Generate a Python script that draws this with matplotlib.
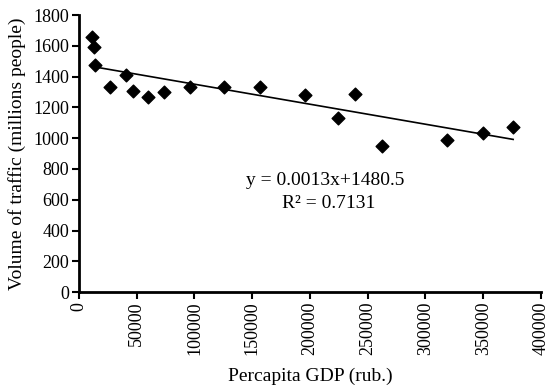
import matplotlib.pyplot as plt
import numpy as np

gdp = [11200, 12900, 13700, 26600, 40300, 47200, 60100, 73800, 96100, 125300,
       157100, 195700, 224000, 238600, 262700, 318500, 350200, 375900]
traffic = [1660, 1595, 1475, 1335, 1410, 1305, 1270, 1300, 1335, 1335,
           1335, 1280, 1130, 1290, 950, 985, 1035, 1070]
slope, intercept = -0.0013, 1480.5

plt.rcParams['font.family'] = ['Liberation Serif', 'DejaVu Serif']
plt.rcParams['font.size'] = 13

fig = plt.figure(figsize=(5.5, 3.91), dpi=100)
ax = fig.add_axes([0.1436, 0.253, 0.8400, 0.7086])

ax.scatter(gdp, traffic, marker='D', s=42, color='black', zorder=3)
xs = np.array([min(gdp), max(gdp)])
ax.plot(xs, intercept + slope * xs, color='black', lw=1.2)

ax.set_xlim(0, 400000)
ax.set_ylim(0, 1800)
ax.set_xticks(np.arange(0, 400001, 50000))
ax.set_yticks(np.arange(0, 1801, 200))
ax.tick_params(axis='x', labelrotation=90)
ax.tick_params(direction='out', length=5, width=1.5, pad=2)
for s in ['top', 'right']:
    ax.spines[s].set_visible(False)
for s in ['left', 'bottom']:
    ax.spines[s].set_linewidth(2)

ax.set_xlabel('Percapita GDP (rub.)', fontsize=14, labelpad=9)
ax.set_ylabel('Volume of traffic (millions people)', fontsize=14, labelpad=5)

ax.text(0.533, 0.404, 'y = 0.0013x+1480.5', transform=ax.transAxes, ha='center', va='center', fontsize=14)
ax.text(0.54, 0.318, 'R² = 0.7131', transform=ax.transAxes, ha='center', va='center', fontsize=14)

fig.savefig('out.png', dpi=100)
